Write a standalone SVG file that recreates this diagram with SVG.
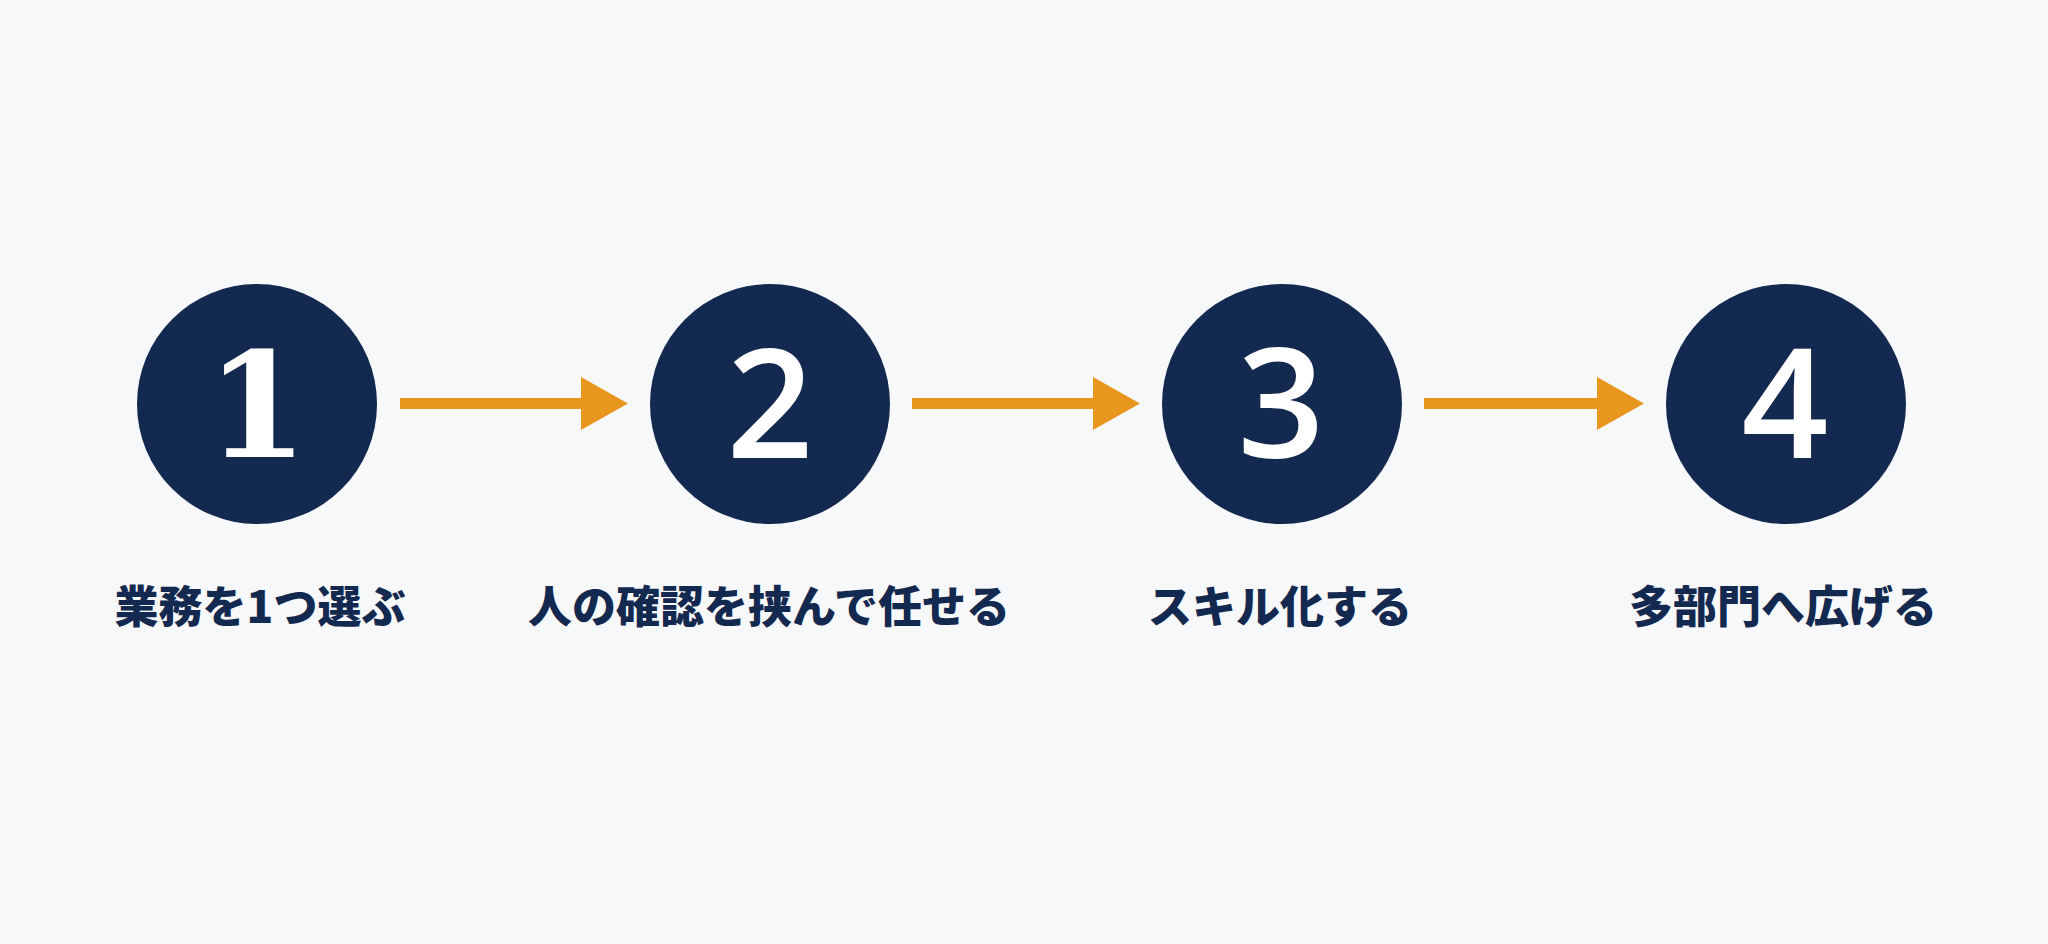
<svg xmlns="http://www.w3.org/2000/svg" width="2048" height="944" viewBox="0 0 2048 944">
<style>
.bg{fill:#F7F8FA}
.circle{fill:#13294F}
.num{fill:#FFFFFF;font-family:"Open Sans","Noto Sans",sans-serif;font-weight:600;font-size:152px;text-anchor:middle}
.num1{fill:#FFFFFF;font-family:"DejaVu Serif","Liberation Serif",serif;font-weight:700;font-size:146px;text-anchor:middle}
.label{fill:#13294F;font-family:"Noto Sans CJK JP","Noto Sans CJK SC",sans-serif;font-weight:900;font-size:44px;text-anchor:middle}
.shaft{fill:#E8961E}
.head{fill:#E8961E}
</style>
<rect class="bg" x="0" y="0" width="2048" height="944"/>
<g id="connectors">
  <g id="arrow-1-2"><rect class="shaft" x="400" y="398" width="184" height="11"/><polygon class="head" points="581,377 628,403.5 581,430"/></g>
  <g id="arrow-2-3"><rect class="shaft" x="912" y="398" width="184" height="11"/><polygon class="head" points="1093,377 1140,403.5 1093,430"/></g>
  <g id="arrow-3-4"><rect class="shaft" x="1424" y="398" width="175" height="11"/><polygon class="head" points="1597,377 1644,403.5 1597,430"/></g>
</g>
<g id="step-1">
  <circle class="circle" cx="257" cy="404" r="120"/>
  <text class="num1" x="257" y="457">1</text>
  <text class="label" x="260" y="623">業務を1つ選ぶ</text>
</g>
<g id="step-2">
  <circle class="circle" cx="770" cy="404" r="120"/>
  <text class="num" x="770" y="458">2</text>
  <text class="label" x="769" y="623">人の確認を挟んで任せる</text>
</g>
<g id="step-3">
  <circle class="circle" cx="1282" cy="404" r="120"/>
  <text class="num" x="1281" y="458">3</text>
  <text class="label" x="1280" y="623">スキル化する</text>
</g>
<g id="step-4">
  <circle class="circle" cx="1786" cy="404" r="120"/>
  <text class="num" x="1785" y="458">4</text>
  <text class="label" x="1783" y="623">多部門へ広げる</text>
</g>
</svg>
